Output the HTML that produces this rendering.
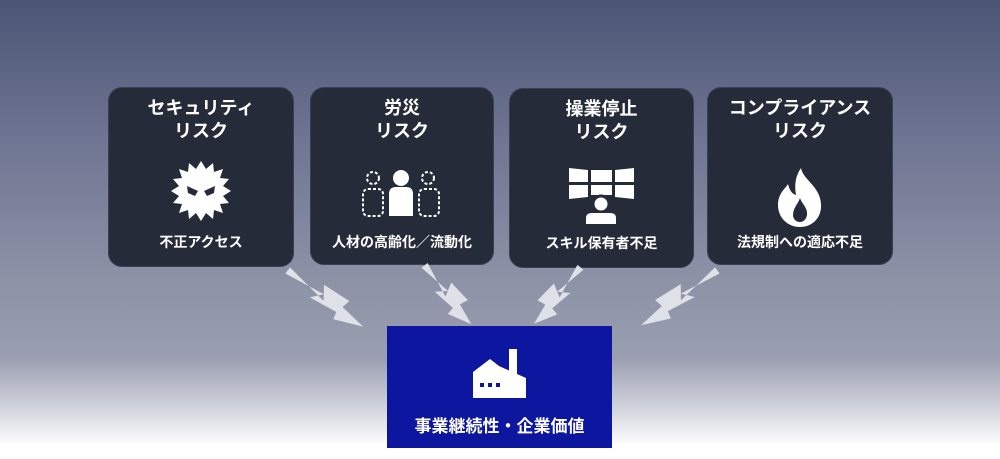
<!DOCTYPE html>
<html><head><meta charset="utf-8"><style>
html,body{margin:0;padding:0}
body{width:1000px;height:459px;position:relative;overflow:hidden;font-family:"Liberation Sans","Noto Sans CJK JP",sans-serif;
background:linear-gradient(180deg,#4c5576 0%,#6e7592 30%,#8c91a6 60%,#9a9eb0 78%,#d8d9e0 90%,#ffffff 97%);}
.box{position:absolute;background:#262b3a;border-radius:14px;color:#fff;text-align:center;border:1px solid #3a4052}
.t{position:absolute;left:0;right:0;top:9px;font-size:18px;font-weight:bold;line-height:23px}
.s{position:absolute;left:0;right:0;top:144px;font-size:14px;font-weight:bold}
svg.i{position:absolute;left:0;top:0}
.blue{position:absolute;left:387px;top:326px;width:225px;height:122px;background:#0c169e;color:#fff;text-align:center}
</style></head><body>
<div class="box" style="left:108px;top:87px;width:184px;height:178px">
<div class="t">セキュリティ<br>リスク</div>
<svg class="i" width="184" height="178"><g transform="translate(92,103)">
<polygon fill="#fff" points="0,-30 5,-22 12,-28 13,-19 22,-22 19,-13 28,-12 22,-5 30,0 22,5 28,12 19,13 22,22 13,19 12,28 5,22 0,30 -5,22 -12,28 -13,19 -22,22 -19,13 -28,12 -22,5 -30,0 -22,-5 -28,-12 -19,-13 -22,-22 -13,-19 -12,-28 -5,-22"/>
<polygon fill="#262b3a" points="-14,-5 -3,0 -6,5 -13,2"/><polygon fill="#262b3a" points="14,-5 3,0 6,5 13,2"/></g></svg>
<div class="s">不正アクセス</div></div>

<div class="box" style="left:310px;top:87px;width:182px;height:176px">
<div class="t">労災<br>リスク</div>
<svg class="i" width="182" height="176"><g fill="none" stroke="#fff" stroke-width="2" stroke-dasharray="3,2">
<circle cx="62" cy="90" r="6"/><rect x="52" y="101" width="20" height="27" rx="5"/>
<circle cx="117" cy="90" r="6"/><rect x="108" y="101" width="20" height="27" rx="5"/></g>
<circle cx="90" cy="90" r="8" fill="#fff"/><path d="M78,128 V106 Q78,99 85,99 H95 Q102,99 102,106 V128 Z" fill="#fff"/></svg>
<div class="s">人材の高齢化／流動化</div></div>

<div class="box" style="left:509px;top:88px;width:183px;height:178px">
<div class="t">操業停止<br>リスク</div>
<svg class="i" width="183" height="178"><g fill="#fff">
<polygon points="59,79 78,81 78,93 59,93"/><polygon points="81,81 102,81 102,93 81,93"/><polygon points="105,81 124,79 124,93 105,93"/>
<polygon points="59,96 78,96 78,108 59,110"/><polygon points="81,96 102,96 102,106 81,106"/><polygon points="105,96 124,96 124,110 105,108"/>
<circle cx="91" cy="115" r="8" stroke="#262b3a" stroke-width="3"/><path d="M76,135 V129 Q76,124 82,124 H100 Q106,124 106,129 V135 Z"/></g></svg>
<div class="s">スキル保有者不足</div></div>

<div class="box" style="left:707px;top:87px;width:184px;height:176px">
<div class="t">コンプライアンス<br>リスク</div>
<svg class="i" width="184" height="176"><path fill="#fff" d="M93,80 C95,92 112,98 113,116 C114,130 104,139 92,139 C80,139 70,130 70,117 C70,105 78,100 80,96 C82,104 85,106 88,107 C86,96 88,87 93,80 Z"/>
<path fill="#262b3a" d="M92,110 C94,116 100,120 99,127 C98,132 95,134 92,134 C88,134 85,131 85,127 C85,120 90,116 92,110 Z"/></svg>
<div class="s">法規制への適応不足</div></div>

<svg style="position:absolute;left:0;top:0" width="1000" height="459">
<defs><polygon id="b" fill="#dfe1e8" points="0,-3 50,3 40,-9 72,-11 70,-3 100,0 70,11 68,4 36,8 46,-2 0,4"/></defs>
<use href="#b" transform="translate(288,270) rotate(37) scale(0.94,1.1)"/>
<use href="#b" transform="translate(425,265) rotate(52) scale(0.75,1.1)"/>
<use href="#b" transform="translate(580,267) rotate(129) scale(0.73,-1.1)"/>
<use href="#b" transform="translate(717,270) rotate(144) scale(0.94,-1.1)"/>
</svg>

<div class="blue">
<svg style="position:absolute;left:0;top:0" width="225" height="122"><g fill="#fff">
<rect x="122" y="23" width="8" height="30"/><path d="M86,72 V46 L103,33 L112,40 L130,48 L139,52 V72 Z"/></g>
<g fill="#0c169e"><rect x="93" y="57" width="4" height="4"/><rect x="101" y="57" width="4" height="4"/><rect x="109" y="57" width="4" height="4"/></g></svg>
<div style="position:absolute;left:0;right:0;top:86px;font-size:17px;font-weight:bold">事業継続性・企業価値</div>
</div>
</body></html>
